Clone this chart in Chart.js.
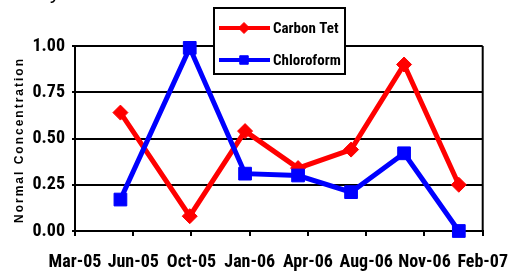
<!DOCTYPE html>
<html>
<head>
<meta charset="utf-8">
<script src="https://cdn.jsdelivr.net/npm/chart.js@4/dist/chart.umd.min.js"></script>
<style>
  html, body { margin: 0; padding: 0; background: #fff; }
  canvas { display: block; }
</style>
</head>
<body>
<canvas id="concChart" width="524" height="271"></canvas>
<script>
// sampling dates and normalised concentrations
const startDate = '2005-03-20';   // left end of the date axis
const sampleDates = ['2005-06-06', '2005-10-03', '2006-01-06', '2006-04-07', '2006-07-07', '2006-10-06', '2007-01-08'];
const carbonTet = [0.64, 0.08, 0.54, 0.34, 0.44, 0.90, 0.25];
const chloroform = [0.17, 0.99, 0.31, 0.30, 0.21, 0.42, 0.00];
const tickLabels = ['Mar-05', 'Jun-05', 'Oct-05', 'Jan-06', 'Apr-06', 'Aug-06', 'Nov-06', 'Feb-07'];
const tickStepDays = 100;

const narrow = '"Roboto Condensed", "Liberation Sans Narrow", "Liberation Sans", Arial, sans-serif';

// days since axis start
function dayOffset(d) {
    return (Date.parse(d) - Date.parse(startDate)) / 86400000;
}
function toPoints(values) {
    return values.map((v, i) => ({ x: dayOffset(sampleDates[i]), y: v }));
}

// right-hand frame line, rotated spaced y title, stray title descender
const framePlugin = {
    id: 'frame',
    afterDraw(chart) {
        const ctx = chart.ctx;
        const a = chart.chartArea;
        ctx.save();
        ctx.strokeStyle = '#000';
        ctx.lineWidth = 2;
        ctx.beginPath();
        ctx.moveTo(a.right, a.top);
        ctx.lineTo(a.right, a.bottom);
        ctx.stroke();

        ctx.fillStyle = '#000';
        ctx.font = '20px "Liberation Sans", Arial, sans-serif';
        ctx.textAlign = 'left';
        ctx.textBaseline = 'alphabetic';
        ctx.fillText('y', 50, -1);

        ctx.translate(20, 141);
        ctx.rotate(-Math.PI / 2);
        ctx.font = 'bold 12px "Liberation Sans", Arial, sans-serif';
        ctx.letterSpacing = '2px';
        ctx.textAlign = 'center';
        ctx.textBaseline = 'middle';
        ctx.fillText('Normal Concentration', 1, 0);
        ctx.restore();
    }
};

// boxed legend overlapping the top of the plot
const boxLegend = {
    id: 'boxLegend',
    afterDraw(chart) {
        const ctx = chart.ctx;
        ctx.save();
        ctx.fillStyle = '#fff';
        ctx.fillRect(214, 8, 131, 66);
        ctx.strokeStyle = '#000';
        ctx.lineWidth = 2;
        ctx.strokeRect(214, 8, 131, 66);

        chart.data.datasets.forEach((ds, i) => {
            const y = 28 + i * 32;
            ctx.strokeStyle = ds.borderColor;
            ctx.lineWidth = 4;
            ctx.beginPath();
            ctx.moveTo(219, y);
            ctx.lineTo(270, y);
            ctx.stroke();
            ctx.fillStyle = ds.borderColor;
            ctx.lineWidth = 1;
            Chart.helpers.drawPoint(ctx, {
                pointStyle: ds.pointStyle,
                radius: ds.pointStyle === 'rect' ? 6 : 5.5,
                rotation: 0,
                borderWidth: 1
            }, 244, y);
            ctx.fillStyle = '#000';
            ctx.font = 'bold 15px ' + narrow;
            ctx.textAlign = 'left';
            ctx.textBaseline = 'middle';
            ctx.fillText(ds.label, 273, y + 1);
        });
        ctx.restore();
    }
};

new Chart(document.getElementById('concChart'), {
    type: 'line',
    data: {
        datasets: [
            {
                label: 'Carbon Tet',
                data: toPoints(carbonTet),
                borderColor: '#ff0000',
                backgroundColor: '#ff0000',
                borderWidth: 5,
                pointStyle: 'rectRot',
                pointRadius: 7.5,
                pointBorderWidth: 1,
                tension: 0,
                clip: false,
                order: 2
            },
            {
                label: 'Chloroform',
                data: toPoints(chloroform),
                borderColor: '#0000ff',
                backgroundColor: '#0000ff',
                borderWidth: 5,
                pointStyle: 'rect',
                pointRadius: 9,
                pointBorderWidth: 1,
                tension: 0,
                clip: false,
                order: 1
            }
        ]
    },
    options: {
        responsive: false,
        animation: false,
        layout: { padding: { top: 46, right: 34, left: 0, bottom: 0 } },
        plugins: {
            legend: { display: false },
            tooltip: { enabled: false }
        },
        scales: {
            x: {
                type: 'linear',
                min: 0,
                max: tickStepDays * (tickLabels.length - 1),
                afterFit(scale) { scale.height = 40; },
                afterBuildTicks(scale) {
                    scale.ticks = tickLabels.map((_, i) => ({ value: i * tickStepDays }));
                },
                ticks: {
                    autoSkip: false,
                    maxRotation: 0,
                    padding: 16,
                    color: '#000',
                    font: { family: narrow, size: 18, weight: 'bold' },
                    callback: (v) => tickLabels[Math.round(v / tickStepDays)]
                },
                grid: {
                    drawOnChartArea: false,
                    color: '#000',
                    lineWidth: 2,
                    tickLength: 5
                },
                border: { color: '#000', width: 2 }
            },
            y: {
                min: 0,
                max: 1,
                afterFit(scale) { scale.width = 75; },
                ticks: {
                    stepSize: 0.25,
                    padding: 7,
                    color: '#000',
                    font: { family: narrow, size: 18, weight: 'bold' },
                    callback: (v) => v.toFixed(2)
                },
                grid: {
                    color: '#000',
                    lineWidth: 2,
                    tickLength: 3
                },
                border: { color: '#000', width: 2 }
            }
        }
    },
    plugins: [framePlugin, boxLegend]
});
</script>
</body>
</html>
